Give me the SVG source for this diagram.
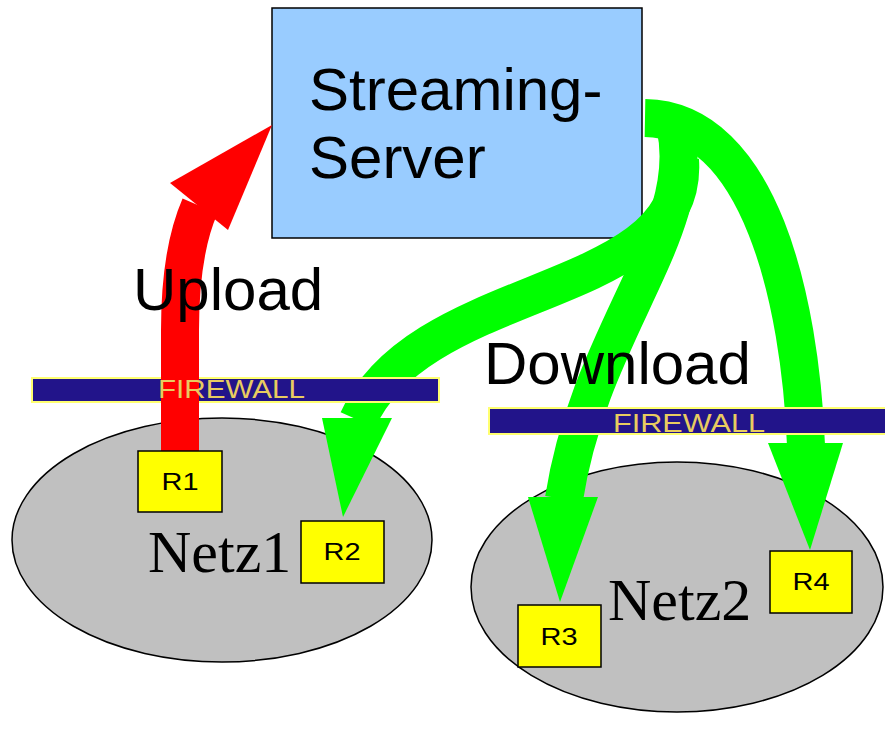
<svg xmlns="http://www.w3.org/2000/svg" width="885" height="733" viewBox="0 0 885 733">
<style>
.net{fill:#c0c0c0;stroke:#000;stroke-width:1.5}
.box{fill:#ffff00;stroke:#000;stroke-width:1.5}
.rl{font-family:"Liberation Sans",Arial,sans-serif;font-size:24px;fill:#000;text-anchor:middle}
.fw{fill:#22148a;stroke:#ffff70;stroke-width:2}
.fwt{font-family:"Liberation Sans",Arial,sans-serif;font-size:25px;fill:#e8cc60}
.big{font-family:"Liberation Sans",Arial,sans-serif;font-size:60px;fill:#000}
.serif{font-family:"Liberation Serif","Times New Roman",serif;font-size:60px;fill:#000}
.g{fill:none;stroke:#00ff00;stroke-width:38}
.gh{fill:#00ff00}
</style>
<rect width="885" height="733" fill="#fff"/>
<g id="netz1"><ellipse class="net" cx="222" cy="540" rx="210" ry="122"/><text class="serif" x="148" y="572">Netz1</text></g>
<g id="netz2"><ellipse class="net" cx="677" cy="587" rx="206" ry="125"/><text class="serif" x="608" y="620">Netz2</text></g>
<g id="server"><rect x="272" y="8" width="370" height="230" fill="#99ccff" stroke="#000" stroke-width="1.5"/><text class="big" x="309" y="110">Streaming-</text><text class="big" x="309" y="178">Server</text></g>
<g id="connectors">
<path class="g" d="M645 118 C760 120 800 300 806 445"/>
<polygon class="gh" points="768,443 843,443 810,550"/>
<path class="g" d="M675 125 C700 230 590 330 564 499"/>
<polygon class="gh" points="528,497 598,497 560,602"/>
<path class="g" d="M680 160 C690 300 420 280 358 420"/>
<polygon class="gh" points="322,418 392,418 343,517"/>
</g>
<g id="firewall1"><rect class="fw" x="32" y="378" width="407" height="24"/></g>
<g id="firewall2"><rect class="fw" x="489" y="408" width="400" height="26"/></g>
<g id="upload">
<path d="M180 452 L180 330 C180 280 186 238 200 206" fill="none" stroke="#ff0000" stroke-width="38"/>
<polygon points="272,125 170,183 228,230" fill="#ff0000"/>
</g>
<text class="fwt" x="158" y="398" textLength="147" lengthAdjust="spacingAndGlyphs">FIREWALL</text>
<text class="fwt" x="613" y="432" textLength="152" lengthAdjust="spacingAndGlyphs">FIREWALL</text>
<text class="big" x="133" y="310">Upload</text>
<text class="big" x="484" y="384">Download</text>
<g id="r1"><rect class="box" x="138" y="451" width="84" height="61"/><text class="rl" x="180" y="490" textLength="37" lengthAdjust="spacingAndGlyphs">R1</text></g>
<g id="r2"><rect class="box" x="301" y="521" width="83" height="62"/><text class="rl" x="342" y="560" textLength="37" lengthAdjust="spacingAndGlyphs">R2</text></g>
<g id="r3"><rect class="box" x="518" y="605" width="83" height="62"/><text class="rl" x="559" y="645" textLength="37" lengthAdjust="spacingAndGlyphs">R3</text></g>
<g id="r4"><rect class="box" x="770" y="551" width="82" height="62"/><text class="rl" x="811" y="590" textLength="37" lengthAdjust="spacingAndGlyphs">R4</text></g>
</svg>
